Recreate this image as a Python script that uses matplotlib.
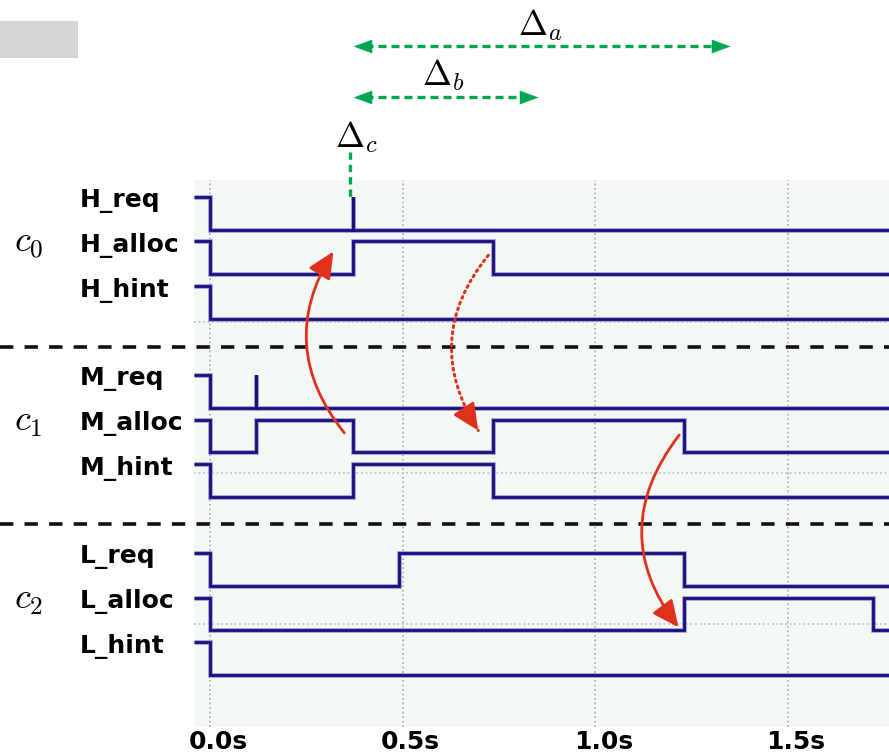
import matplotlib
matplotlib.use("Agg")
import matplotlib.pyplot as plt
import matplotlib.transforms as mtrans
from matplotlib.patches import FancyArrowPatch, Rectangle
import numpy as np

plt.rcParams['mathtext.fontset'] = 'cm'

# signal names, grouped by class
names = ['H_req', 'H_alloc', 'H_hint',
         'M_req', 'M_alloc', 'M_hint',
         'L_req', 'L_alloc', 'L_hint']
slots = [0, 1, 2, 4, 5, 6, 8, 9, 10]
groups = [r'$c_0$', r'$c_1$', r'$c_2$']

# toggle times (s); every signal starts high
toggles = [
    [0.0, 0.37, 0.37],
    [0.0, 0.37, 0.735],
    [0.0],
    [0.0, 0.12, 0.12],
    [0.0, 0.12, 0.37, 0.735, 1.23],
    [0.0, 0.37, 0.735],
    [0.0, 0.49, 1.23],
    [0.0, 1.23, 1.72],
    [0.0],
]
tick_vals = [0.0, 0.5, 1.0, 1.5]
tick_labels = ['0.0s', '0.5s', '1.0s', '1.5s']
grid_rows = [2.81, 6.2, 9.6]

t0, t1 = -0.0415, 1.762
amp = 0.74

NAVY = '#17107d'
HALO = '#9d99d2'
RED = '#e0301e'
GREEN = '#00a650'

fig = plt.figure(figsize=(8.89, 7.54), dpi=100)
ax = fig.add_axes([194/889, 1-727/754, 1-194/889, (727-180)/754])
ax.set_facecolor('#f4f8f4')
ax.set_xlim(t0, t1)
ax.set_ylim(11.91, -0.382)
for s in ax.spines.values():
    s.set_visible(False)
ax.set_yticks([])
ax.set_xticks(tick_vals, tick_labels, fontsize=18, fontweight='bold')
ax.tick_params(axis='x', length=0, pad=2)
for lab in ax.get_xticklabels():
    lab.set_transform(lab.get_transform() + mtrans.ScaledTranslation(0.08, 0, fig.dpi_scale_trans))

# grid
for t in tick_vals:
    ax.axvline(t, color='#b4b4b4', lw=1.3, ls=(0, (1, 1.5)), zorder=1)
for y in grid_rows:
    ax.axhline(y, color='#c4c4c4', lw=1.3, ls=(0, (1, 1.5)), zorder=1)

blend = mtrans.blended_transform_factory(fig.transFigure, ax.transData)

# waveforms
for name, k, tg in zip(names, slots, toggles):
    xs = [t0]
    lev = [1]
    cur = 1
    for t in tg:
        cur = 1 - cur
        xs.append(t)
        lev.append(cur)
    xs.append(t1)
    lev.append(cur)
    ys = [k + amp * (1 - v) for v in lev]
    ax.plot(xs, ys, drawstyle='steps-post', color=HALO, lw=3.4, zorder=3,
            solid_capstyle='butt', solid_joinstyle='miter')
    ax.plot(xs, ys, drawstyle='steps-post', color=NAVY, lw=2.0, zorder=4,
            solid_capstyle='butt', solid_joinstyle='miter')
    fig.text(80/889, k + 0.1, name, fontsize=18, fontweight='bold',
             va='center', transform=blend)

# class labels and separators
for g, k in zip(groups, [1, 5, 9]):
    fig.text(14/889, k + 0.05, g, fontsize=26, va='center', transform=blend)
for y in [3.37, 7.35]:
    ax.plot([0, 1], [y, y], transform=blend, color='#111111', lw=2.6,
            ls=(0, (3.7, 3.1)), clip_on=False, zorder=5)

# red causality arrows
arrows = [((0.353, 5.35), (0.324, 1.17), -0.36, '-'),
          ((0.727, 1.26), (0.700, 5.30), 0.37, ':'),
          ((1.222, 5.30), (1.220, 9.72), 0.39, '-')]
fig.canvas.draw()
for a, b, rad, ls in arrows:
    if ls == '-':
        p = FancyArrowPatch(a, b, connectionstyle='arc3,rad=%s' % rad,
                            arrowstyle='-|>,head_length=0.9,head_width=0.42',
                            mutation_scale=18, color=RED, lw=2.0, zorder=6)
        ax.add_patch(p)
    else:
        p = FancyArrowPatch(a, b, connectionstyle='arc3,rad=%s' % rad,
                            arrowstyle='-', color=RED, lw=2.2,
                            linestyle=(0, (0.6, 1.4)), capstyle='round', zorder=6)
        ax.add_patch(p)
        # solid head along the end tangent of the arc
        A = ax.transData.transform(a)
        B = ax.transData.transform(b)
        d = B - A
        ctrl = (A + B) / 2 + rad * np.array([d[1], -d[0]])
        u = (B - ctrl) / np.hypot(*(B - ctrl))
        base = ax.transData.inverted().transform(B - 18 * u)
        h = FancyArrowPatch(base, b, arrowstyle='-|>,head_length=0.9,head_width=0.42',
                            mutation_scale=18, color=RED, lw=2.0, zorder=6)
        ax.add_patch(h)

# green interval markers
head_l = [(0, 0), (19, 7), (19, -7)]
head_r = [(0, 0), (-19, 7), (-19, -7)]
spans = [(0.371, 1.35, -3.39), (0.371, 0.851, -2.25)]
for a, b, y in spans:
    ax.plot([a + 0.03, b - 0.03], [y, y], color=GREEN, lw=2.4,
            ls=(0, (2.4, 1.5)), clip_on=False, zorder=5)
    ax.plot([a], [y], marker=head_l, ms=27, color=GREEN, mec='none', clip_on=False)
    ax.plot([b], [y], marker=head_r, ms=27, color=GREEN, mec='none', clip_on=False)
ax.plot([0.364, 0.364], [-1.0, 0.0], color=GREEN, lw=2.4, ls=(0, (2.2, 1.5)),
        clip_on=False, zorder=5)

ax.text(0.857, -3.87, r'$\Delta_a$', fontsize=25, ha='center', va='center', clip_on=False)
ax.text(0.605, -2.74, r'$\Delta_b$', fontsize=25, ha='center', va='center', clip_on=False)
ax.text(0.379, -1.35, r'$\Delta_c$', fontsize=25, ha='center', va='center', clip_on=False)

fig.patches.append(Rectangle((0, 1-58/754), 78/889, 37/754, transform=fig.transFigure,
                             facecolor='#d5d6d8', edgecolor='none', zorder=0))

fig.savefig('out.png', dpi=100)
